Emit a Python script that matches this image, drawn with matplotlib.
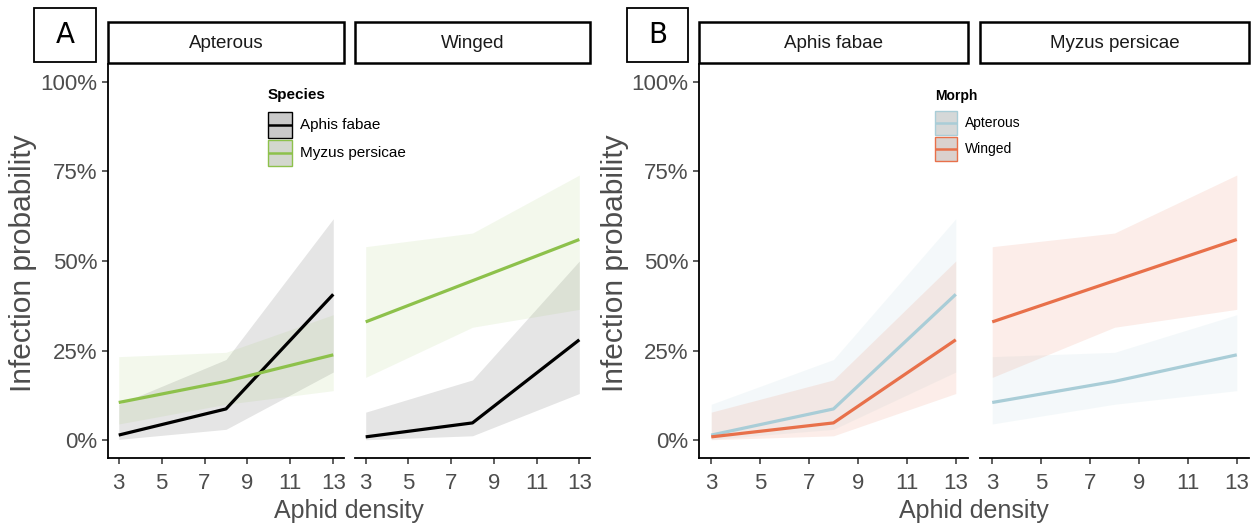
import matplotlib
matplotlib.use("Agg")
import matplotlib.pyplot as plt
from matplotlib.patches import Rectangle
from matplotlib.lines import Line2D
from matplotlib.ticker import FuncFormatter

plt.rcParams['font.family'] = ['Liberation Sans', 'DejaVu Sans']

# ---------------- data ----------------
density = [3, 8, 13]
x_ticks = [3, 5, 7, 9, 11, 13]
y_ticks = [0, 25, 50, 75, 100]

species = ["Aphis fabae", "Myzus persicae"]
morphs = ["Apterous", "Winged"]

# fitted infection probability (%) and confidence bounds
af_apterous_fit = [1.4, 8.7, 40.7]
af_apterous_lo = [0.2, 3.0, 19.0]
af_apterous_hi = [10.0, 22.5, 61.8]

af_winged_fit = [0.9, 4.8, 28.0]
af_winged_lo = [0.1, 1.2, 13.0]
af_winged_hi = [7.8, 16.8, 50.0]

mp_apterous_fit = [10.5, 16.4, 23.8]
mp_apterous_lo = [4.5, 10.0, 13.8]
mp_apterous_hi = [23.3, 24.5, 35.0]

mp_winged_fit = [33.0, 44.5, 56.0]
mp_winged_lo = [17.5, 31.5, 36.5]
mp_winged_hi = [54.0, 57.8, 74.0]

series = {
    ("Aphis fabae", "Apterous"): (af_apterous_fit, af_apterous_lo, af_apterous_hi),
    ("Aphis fabae", "Winged"): (af_winged_fit, af_winged_lo, af_winged_hi),
    ("Myzus persicae", "Apterous"): (mp_apterous_fit, mp_apterous_lo, mp_apterous_hi),
    ("Myzus persicae", "Winged"): (mp_winged_fit, mp_winged_lo, mp_winged_hi),
}

species_colors = {"Aphis fabae": "#000000", "Myzus persicae": "#8DC14B"}
morph_colors = {"Apterous": "#A9CDD7", "Winged": "#E8704A"}

# ---------------- layout ----------------
W, H = 1252, 528
fig = plt.figure(figsize=(W / 100, H / 100), dpi=100)

def fx(px):
    return px / W

def fy(py):
    return (H - py) / H

def rect(x0, x1, ytop, ybot):
    return [x0 / W, (H - ybot) / H, (x1 - x0) / W, (ybot - ytop) / H]

AX_TOP, AX_BOT = 64, 458
STRIP_TOP = 22
panels_A = [(108, 344), (355, 590)]
panels_B = [(699, 968), (980, 1249)]

tick_gray = "#4D4D4D"

def style_axes(ax, show_y):
    ax.set_xlim(2.5, 13.5)
    ax.set_ylim(-5, 105)
    ax.set_xticks(x_ticks)
    ax.set_yticks(y_ticks)
    ax.yaxis.set_major_formatter(FuncFormatter(lambda v, p: f"{int(v)}%"))
    for s in ["top", "right"]:
        ax.spines[s].set_visible(False)
    ax.spines["bottom"].set_linewidth(1.3)
    ax.spines["left"].set_linewidth(1.3)
    ax.tick_params(axis="both", direction="out", length=4.5, width=1.1,
                   color="#333333", labelsize=16, labelcolor=tick_gray)
    ax.tick_params(axis="x", pad=6)
    ax.tick_params(axis="y", pad=3)
    if not show_y:
        ax.spines["left"].set_visible(False)
        ax.tick_params(axis="y", left=False, labelleft=False)

def strip(x0, x1, label):
    r = Rectangle((fx(x0), fy(AX_TOP - 1)), (x1 - x0) / W, (AX_TOP - 1 - STRIP_TOP) / H,
                  transform=fig.transFigure, facecolor="white", edgecolor="black",
                  linewidth=1.8, zorder=5)
    fig.add_artist(r)
    fig.text(fx((x0 + x1) / 2), fy((AX_TOP + STRIP_TOP) / 2), label,
             ha="center", va="center", fontsize=13.5, color="#1A1A1A", zorder=6)

def label_box(x0, x1, y0, y1, txt):
    r = Rectangle((fx(x0), fy(y1)), (x1 - x0) / W, (y1 - y0) / H,
                  transform=fig.transFigure, facecolor="white", edgecolor="black",
                  linewidth=1.3, zorder=5)
    fig.add_artist(r)
    fig.text(fx((x0 + x1) / 2), fy((y0 + y1) / 2), txt, ha="center", va="center",
             fontsize=20, color="black", family=["DejaVu Sans"], zorder=6)

# ---------------- Panel A: facets by morph, colour by species ----------------
axesA = []
for i, (morph, (x0, x1)) in enumerate(zip(morphs, panels_A)):
    ax = fig.add_axes(rect(x0, x1, AX_TOP, AX_BOT))
    for sp in species:
        fit, lo, hi = series[(sp, morph)]
        c = species_colors[sp]
        ax.fill_between(density, lo, hi, color=c, alpha=0.1, linewidth=0)
        ax.plot(density, fit, color=c, linewidth=2.3, solid_capstyle="butt")
    style_axes(ax, show_y=(i == 0))
    strip(x0, x1, morph)
    axesA.append(ax)

# ---------------- Panel B: facets by species, colour by morph ----------------
axesB = []
for i, (sp, (x0, x1)) in enumerate(zip(species, panels_B)):
    ax = fig.add_axes(rect(x0, x1, AX_TOP, AX_BOT))
    for morph in morphs:
        fit, lo, hi = series[(sp, morph)]
        c = morph_colors[morph]
        ax.fill_between(density, lo, hi, color=c, alpha=0.12, linewidth=0)
        ax.plot(density, fit, color=c, linewidth=2.3, solid_capstyle="butt")
    style_axes(ax, show_y=(i == 0))
    strip(x0, x1, sp)
    axesB.append(ax)

# axis titles
for xc, yc in [(23, 263), (615, 263)]:
    fig.text(fx(xc), fy(yc), "Infection probability", rotation=90,
             ha="center", va="center", fontsize=21.5, color=tick_gray)
for xc in [349, 974]:
    fig.text(fx(xc), fy(511), "Aphid density", ha="center", va="center",
             fontsize=18, color=tick_gray)

# panel labels
label_box(34, 96, 8, 62, "A")
label_box(627, 688, 8, 62, "B")

# legends, drawn as key boxes + lines + text in figure pixels
def draw_legend(title, names, colors, x0, y_title, key_top, key_w, key_h, gap, fs):
    fig.text(fx(x0), fy(y_title), title, ha="left", va="center",
             fontsize=fs, fontweight="bold", color="black", zorder=12)
    ytop = key_top
    for n in names:
        c = colors[n]
        fig.add_artist(Rectangle((fx(x0), fy(ytop + key_h)), key_w / W, key_h / H,
                                 transform=fig.transFigure, facecolor="#D9D9D9",
                                 edgecolor=c, linewidth=1.0, zorder=11))
        fig.add_artist(Rectangle((fx(x0), fy(ytop + key_h)), key_w / W, key_h / H,
                                 transform=fig.transFigure, facecolor=c, alpha=0.07,
                                 edgecolor="none", zorder=11))
        ymid = ytop + key_h / 2
        fig.add_artist(Line2D([fx(x0 + 1), fx(x0 + key_w - 1)], [fy(ymid), fy(ymid)],
                              transform=fig.transFigure, color=c, linewidth=1.8, zorder=12))
        fig.text(fx(x0 + key_w + 8), fy(ymid), n, ha="left", va="center",
                 fontsize=fs, color="black", zorder=12)
        ytop += key_h + gap

draw_legend("Species", species, species_colors, 268, 95, 112, 24, 26, 2, 11)
draw_legend("Morph", morphs, morph_colors, 935, 96, 111, 22, 24, 2, 10)

fig.savefig("out.png", dpi=100)
